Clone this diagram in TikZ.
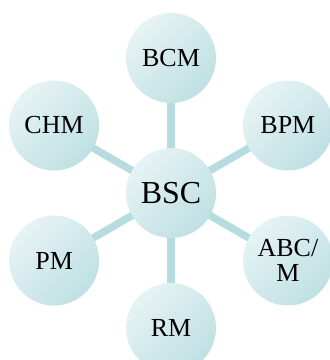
\documentclass[tikz,border=0pt]{standalone}
\usepackage{fontspec}
\setmainfont{Liberation Serif}
\usetikzlibrary{backgrounds}

\definecolor{bubblelight}{HTML}{E6F3F4}
\definecolor{bubbledark}{HTML}{BFE0E3}
\definecolor{spoke}{HTML}{B6DCDF}

\tikzset{
	bubble/.style={circle, minimum size=90pt, inner sep=0pt, align=center,
		left color=bubblelight, right color=bubbledark, shading angle=45,
		font=\fontsize{26}{25}\selectfont},
	hub/.style={bubble, font=\fontsize{32}{32}\selectfont},
	link/.style={color=spoke, line width=7.5pt}
}

\begin{document}
\begin{tikzpicture}[x=1pt, y=1pt]
		\useasboundingbox (-171, -167) rectangle (159, 193);
		% centre and the six around it
		\node[hub] (bsc) at (0, 0) {BSC};
		\node[bubble] (bcm) at (90:135) {BCM};
		\node[bubble] (bpm) at (30:135) {BPM};
		\node[bubble] (abcm) at (-30:135) {ABC/\\M};
		\node[bubble] (rm) at (-90:135) {RM};
		\node[bubble] (pm) at (-150:135) {PM};
		\node[bubble] (chm) at (150:135) {CHM};
		\begin{scope}[on background layer]
			\foreach \n in {bcm, bpm, abcm, rm, pm, chm}
				\draw[link] (bsc.center) -- (\n.center);
		\end{scope}
	\end{tikzpicture}
\end{document}
